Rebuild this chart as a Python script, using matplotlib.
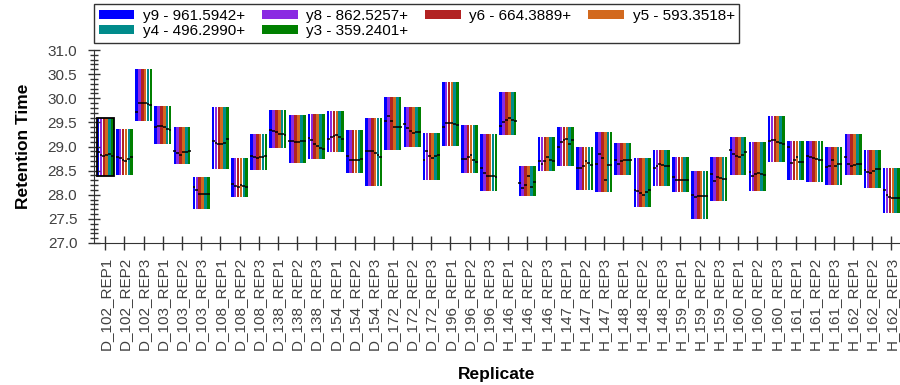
import matplotlib.pyplot as plt
from matplotlib.patches import Patch, Rectangle
from matplotlib.ticker import MultipleLocator

plt.rcParams['font.family'] = ['Liberation Sans', 'DejaVu Sans']

REPLICATES = [
    "D_102_REP1", "D_102_REP2", "D_102_REP3",
    "D_103_REP1", "D_103_REP2", "D_103_REP3",
    "D_108_REP1", "D_108_REP2", "D_108_REP3",
    "D_138_REP1", "D_138_REP2", "D_138_REP3",
    "D_154_REP1", "D_154_REP2", "D_154_REP3",
    "D_172_REP1", "D_172_REP2", "D_172_REP3",
    "D_196_REP1", "D_196_REP2", "D_196_REP3",
    "H_146_REP1", "H_146_REP2", "H_146_REP3",
    "H_147_REP1", "H_147_REP2", "H_147_REP3",
    "H_148_REP1", "H_148_REP2", "H_148_REP3",
    "H_159_REP1", "H_159_REP2", "H_159_REP3",
    "H_160_REP1", "H_160_REP2", "H_160_REP3",
    "H_161_REP1", "H_161_REP2", "H_161_REP3",
    "H_162_REP1", "H_162_REP2", "H_162_REP3",
]

# peak integration boundaries per replicate (minutes)
START_TIME = [
    28.38, 28.41, 29.53, 29.06, 28.63, 27.71, 28.53, 27.95, 28.52, 28.97,
    28.66, 28.74, 28.88, 28.45, 28.19, 28.92, 28.99, 28.31, 29.01, 28.45,
    28.08, 29.23, 27.98, 28.50, 28.60, 28.10, 28.05, 28.41, 27.74, 28.19,
    28.05, 27.50, 27.88, 28.41, 28.08, 28.68, 28.31, 28.27, 28.20, 28.41,
    28.13, 27.63,
]
END_TIME = [
    29.59, 29.36, 30.60, 29.84, 29.41, 28.37, 29.81, 28.76, 29.26, 29.76,
    29.65, 29.68, 29.73, 29.34, 29.60, 30.02, 29.81, 29.29, 30.34, 29.44,
    29.26, 30.12, 28.60, 29.20, 29.41, 28.99, 29.31, 29.07, 28.76, 28.92,
    28.78, 28.50, 28.78, 29.20, 29.09, 29.64, 29.12, 29.12, 28.99, 29.26,
    28.92, 28.55,
]

# apex retention time of each transition
RT_Y9 = [
    28.88, 28.79, 29.72, 29.40, 28.91, 28.17, 29.12, 28.23, 28.81, 29.34,
    29.12, 29.17, 29.15, 28.80, 28.91, 29.52, 29.46, 28.72, 29.40, 28.74,
    28.55, 29.43, 28.24, 28.69, 28.99, 28.55, 28.64, 28.72, 28.10, 28.55,
    28.36, 28.00, 28.43, 28.93, 28.48, 29.12, 28.99, 28.81, 28.57, 28.79,
    28.52, 28.10,
]
RT_Y8 = [
    28.82, 28.77, 29.91, 29.43, 28.86, 28.10, 29.08, 28.19, 28.78, 29.33,
    29.11, 29.14, 29.19, 28.72, 28.91, 29.63, 29.38, 28.90, 29.48, 28.74,
    28.45, 29.50, 28.14, 28.64, 29.10, 28.55, 28.85, 28.64, 28.07, 28.60,
    28.30, 27.95, 28.28, 28.85, 28.39, 29.14, 28.66, 28.78, 28.60, 28.64,
    28.48, 28.00,
]
RT_Y6 = [
    28.80, 28.72, 29.90, 29.42, 28.83, 28.02, 29.06, 28.17, 28.76, 29.30,
    29.10, 29.05, 29.22, 28.72, 28.90, 29.52, 29.33, 28.80, 29.48, 28.78,
    28.38, 29.55, 28.20, 28.70, 29.14, 28.60, 28.76, 28.70, 28.03, 28.64,
    28.30, 27.98, 28.37, 28.80, 28.44, 29.13, 28.72, 28.77, 28.72, 28.60,
    28.46, 27.96,
]
RT_Y5 = [
    28.82, 28.69, 29.90, 29.40, 28.88, 28.02, 29.06, 28.20, 28.78, 29.26,
    29.10, 29.01, 29.24, 28.72, 28.86, 29.41, 29.29, 28.76, 29.48, 28.83,
    28.38, 29.60, 28.38, 28.78, 29.15, 28.69, 28.31, 28.72, 28.00, 28.62,
    28.31, 27.98, 28.34, 28.78, 28.46, 29.10, 28.78, 28.74, 28.60, 28.62,
    28.50, 27.93,
]
RT_Y4 = [
    28.84, 28.74, 29.88, 29.37, 28.89, 28.02, 29.07, 28.18, 28.79, 29.25,
    29.11, 28.97, 29.20, 28.73, 28.82, 29.40, 29.31, 28.80, 29.46, 28.72,
    28.38, 29.55, 28.17, 28.72, 29.06, 28.65, 28.62, 28.72, 28.05, 28.60,
    28.30, 27.97, 28.32, 28.82, 28.43, 29.08, 28.67, 28.72, 28.64, 28.64,
    28.53, 27.93,
]
RT_Y3 = [
    28.80, 28.78, 29.86, 29.34, 28.90, 28.02, 29.15, 28.17, 28.80, 29.24,
    29.12, 28.94, 29.15, 28.74, 28.79, 29.40, 29.31, 28.83, 29.45, 28.67,
    28.37, 29.52, 28.26, 28.69, 29.14, 28.62, 28.62, 28.72, 28.10, 28.60,
    28.31, 27.97, 28.32, 28.88, 28.41, 29.06, 28.67, 28.72, 28.64, 28.64,
    28.53, 27.93,
]

TRANSITIONS = [
    ("y9 - 961.5942+", "#0000FF", RT_Y9),
    ("y8 - 862.5257+", "#8A2BE2", RT_Y8),
    ("y6 - 664.3889+", "#B22222", RT_Y6),
    ("y5 - 593.3518+", "#D2691E", RT_Y5),
    ("y4 - 496.2990+", "#008B8B", RT_Y4),
    ("y3 - 359.2401+", "#008000", RT_Y3),
]
SELECTED = 0

fig = plt.figure(figsize=(9, 3.85), dpi=100)
ax = fig.add_axes([94 / 900, 1 - 243 / 385, 1 - 94 / 900, 193 / 385])

step = 0.15
xs = list(range(len(REPLICATES)))
heights = [e - s for s, e in zip(START_TIME, END_TIME)]
handles = []
for k, (name, colour, rts) in enumerate(TRANSITIONS):
    off = (k - 2.5) * step
    pos = [x + off for x in xs]
    ax.bar(pos, heights, bottom=START_TIME, width=step * 0.9,
           color=colour, linewidth=0)
    ax.hlines(rts, [p - step / 2 for p in pos], [p + step / 2 for p in pos],
              colors="black", linewidth=1.1, zorder=3)
    handles.append(Patch(facecolor=colour, edgecolor="none", label=name))

# outline for the selected replicate
ax.add_patch(Rectangle((SELECTED - 3 * step, START_TIME[SELECTED]), 6 * step,
                       END_TIME[SELECTED] - START_TIME[SELECTED],
                       fill=False, edgecolor="black", linewidth=1.3, zorder=4))

ax.set_xlim(-0.59, len(REPLICATES) - 0.55)
ax.set_ylim(27.0, 31.0)
ax.yaxis.set_major_locator(MultipleLocator(0.5))
ax.yaxis.set_minor_locator(MultipleLocator(0.1))
ax.yaxis.set_major_formatter("{x:.1f}")
ax.set_xticks(xs)
ax.set_xticklabels(REPLICATES, rotation=90)

for side in ("top", "right"):
    ax.spines[side].set_visible(False)
for side in ("left", "bottom"):
    ax.spines[side].set_color("#333333")
ax.tick_params(axis="y", which="major", direction="inout", length=8,
               width=1, pad=8, labelsize=11, colors="#333333")
ax.tick_params(axis="y", which="minor", direction="inout", length=6,
               width=1, colors="#333333")
ax.tick_params(axis="x", direction="inout", length=10, width=1, pad=5,
               labelsize=11, colors="#333333")
for lbl in ax.get_xticklabels() + ax.get_yticklabels():
    lbl.set_color("#404040")

ax.set_ylabel("Retention Time", fontsize=12.5, fontweight="bold", labelpad=12)
ax.set_xlabel("Replicate", fontsize=12.5, fontweight="bold", labelpad=12)

# legend fills column by column; order it so rows read y9 y8 y6 y5 / y4 y3
ncol = 4
order = [0, 4, 1, 5, 2, 3]
leg = fig.legend(handles=[handles[i] for i in order], loc="upper left",
                 bbox_to_anchor=(94 / 900, 1 - 4 / 385), ncol=ncol,
                 fontsize=11, frameon=True, fancybox=False,
                 handlelength=2.35, handleheight=0.55, handletextpad=0.55,
                 columnspacing=1.1, labelspacing=0.1, borderpad=0.3,
                 borderaxespad=0)
leg.get_frame().set_edgecolor("black")
leg.get_frame().set_linewidth(1)

fig.savefig("out.png", dpi=100)
